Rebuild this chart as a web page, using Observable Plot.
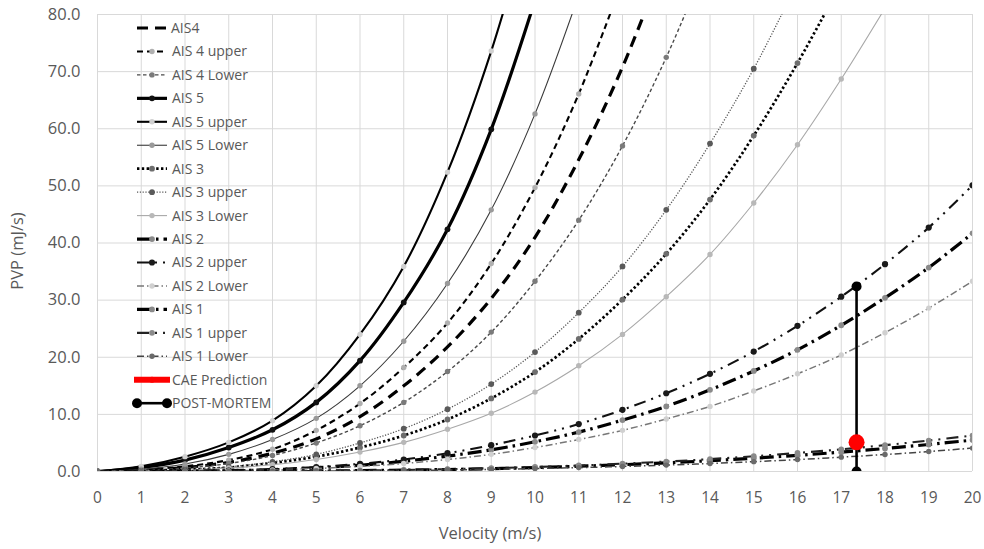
<!DOCTYPE html>
<html>
<head>
<meta charset="utf-8">
<script src="https://cdn.jsdelivr.net/npm/d3@7"></script>
<script src="https://cdn.jsdelivr.net/npm/@observablehq/plot@0.6"></script>
<style>
  html, body { margin: 0; padding: 0; background: #fff; }
  #wrap { position: relative; width: 984px; height: 549px; font-family: "Open Sans", sans-serif; }
  #wrap svg { position: absolute; left: 0; top: 0; }
</style>
</head>
<body>
<div id="wrap"></div>
<script>
// ---------- DATA ----------
const velocity = [0,1,2,3,4,5,6,7,8,9,10,11,12,13,14,15,16,17,18,19,20];
const xTicks = [0,1,2,3,4,5,6,7,8,9,10,11,12,13,14,15,16,17,18,19,20];
const yTicks = [0,10,20,30,40,50,60,70,80];

const seriesNames = ["AIS4","AIS 4 upper","AIS 4 Lower","AIS 5","AIS 5 upper","AIS 5 Lower",
  "AIS 3","AIS 3 upper","AIS 3 Lower","AIS 2","AIS 2 upper","AIS 2 Lower",
  "AIS 1","AIS 1 upper","AIS 1 Lower","CAE Prediction","POST-MORTEM"];

const ais4      = [0,0.2,0.7,1.6,3.2,5.7,9.6,15.0,21.8,30.3,41.0,54.6,70.8,90.1];
const ais4Upper = [0,0.3,0.9,2.0,3.9,7.2,11.9,18.2,26.0,36.4,49.7,66.1,85.9];
const ais4Lower = [0,0.2,0.6,1.4,2.8,5.0,8.0,12.1,17.5,24.4,33.3,44.0,57.0,72.5,90.6];
const ais5      = [0,0.7,2.0,4.2,7.3,12.1,19.4,29.6,42.4,59.9,82.5];
const ais5Upper = [0,0.9,2.6,5.1,8.9,15.0,24.0,35.9,52.4,73.6,100.0];
const ais5Lower = [0,0.4,1.3,3.0,5.6,9.3,15.0,22.8,32.9,45.8,62.6,83.4];
const ais3      = [0,0.1,0.3,0.7,1.5,2.6,4.2,6.3,9.1,12.8,17.4,23.2,30.1,38.1,47.6,58.8,71.5,85.5];
const ais3Upper = [0,0.1,0.3,0.8,1.7,3.0,5.0,7.5,10.9,15.3,20.9,27.8,35.9,45.8,57.4,70.5,85.6];
const ais3Lower = [0,0.1,0.2,0.6,1.2,2.1,3.4,5.1,7.4,10.2,13.9,18.5,24.0,30.6,38.0,47.0,57.2,68.7,81.1];
const ais2      = [0,0.01,0.04,0.14,0.33,0.65,1.1,1.8,2.7,3.8,5.2,6.9,9.0,11.4,14.3,17.6,21.3,25.6,30.4,35.7,41.7];
const ais2Upper = [0,0.01,0.05,0.17,0.4,0.78,1.35,2.1,3.2,4.6,6.3,8.3,10.8,13.7,17.1,21.0,25.5,30.6,36.3,42.7,50.1];
const ais2Lower = [0,0.0,0.03,0.11,0.27,0.52,0.9,1.4,2.1,3.0,4.2,5.6,7.2,9.2,11.4,14.1,17.1,20.4,24.3,28.6,33.3];
const ais1      = [0,0.0,0.01,0.02,0.04,0.09,0.15,0.24,0.35,0.5,0.69,0.92,1.19,1.52,1.89,2.33,2.83,3.39,4.02,4.73,5.5];
const ais1Upper = [0,0.0,0.01,0.02,0.05,0.1,0.17,0.27,0.4,0.58,0.79,1.05,1.37,1.74,2.17,2.67,3.24,3.88,4.61,5.42,6.3];
const ais1Lower = [0,0.0,0.0,0.01,0.03,0.06,0.11,0.17,0.26,0.37,0.51,0.68,0.88,1.12,1.4,1.72,2.09,2.51,2.97,3.5,4.1];

const caeVelocity = [17.35];
const caeValue = [5.1];
const postMortemVelocity = [17.35, 17.35];
const postMortemValue = [0, 32.4];

// ---------- STYLES ----------
const seriesValues = [ais4, ais4Upper, ais4Lower, ais5, ais5Upper, ais5Lower,
  ais3, ais3Upper, ais3Lower, ais2, ais2Upper, ais2Lower, ais1, ais1Upper, ais1Lower];

const styles = [
  {stroke:"#000", w:3.2, dash:"11,7",          marker:null,   r:0},
  {stroke:"#000", w:2.1, dash:"6,4",           marker:"#b0b0b0", r:2.7},
  {stroke:"#4a4a4a", w:1.4, dash:"3.5,2.5",    marker:"#7a7a7a", r:2.7},
  {stroke:"#000", w:3.2, dash:null,            marker:"#111", r:2.9},
  {stroke:"#000", w:2.1, dash:null,            marker:"#d0d0d0", r:2.7},
  {stroke:"#3a3a3a", w:1.1, dash:null,         marker:"#9a9a9a", r:2.7},
  {stroke:"#000", w:2.7, dash:"2.4,2.4",       marker:"#6e6e6e", r:2.9},
  {stroke:"#555", w:1.3, dash:"1.2,1.6",       marker:"#5a5a5a", r:2.9},
  {stroke:"#a8a8a8", w:1.1, dash:null,         marker:"#b8b8b8", r:2.7},
  {stroke:"#000", w:3.2, dash:"14,5,2.5,5",    marker:"#8a8a8a", r:2.9},
  {stroke:"#111", w:2.1, dash:"12,6,2,6,2,6",  marker:"#1a1a1a", r:3.1},
  {stroke:"#777", w:1.5, dash:"7,3,1.5,3",     marker:"#d0d0d0", r:2.7},
  {stroke:"#000", w:3.2, dash:"14,5,2.5,5",    marker:"#8a8a8a", r:2.9},
  {stroke:"#222", w:2.1, dash:"12,6,2,6,2,6",  marker:"#8a8a8a", r:2.9},
  {stroke:"#444", w:1.5, dash:"7,3,1.5,3",     marker:"#6a6a6a", r:2.7}
];

// ---------- CHART ----------
const W = 984, H = 549;
const margin = {left: 97, right: 12, top: 14, bottom: 78};

const marks = [
  Plot.gridX(xTicks, {stroke: "#d9d9d9", strokeOpacity: 1, strokeWidth: 1}),
  Plot.gridY(yTicks, {stroke: "#d9d9d9", strokeOpacity: 1, strokeWidth: 1}),
  Plot.axisX(xTicks, {tickSize: 0, tickPadding: 20, fontSize: 15.5, fill: "#595959", label: null}),
  Plot.axisY(yTicks, {tickSize: 0, tickPadding: 17, fontSize: 16.5, fill: "#595959", label: null, tickFormat: d => d.toFixed(1)})
];

seriesValues.forEach((vals, i) => {
  const st = styles[i];
  const data = vals.map((v, j) => ({x: velocity[j], y: v}));
  marks.push(Plot.line(data, {
    x: "x", y: "y", curve: "catmull-rom", clip: true,
    stroke: st.stroke, strokeWidth: st.w, strokeDasharray: st.dash || undefined,
    strokeLinecap: "butt", strokeLinejoin: "round"
  }));
  if (st.marker) {
    marks.push(Plot.dot(data, {x: "x", y: "y", r: st.r, fill: st.marker, stroke: "none", clip: true}));
  }
});

const pm = postMortemVelocity.map((v, i) => ({x: v, y: postMortemValue[i]}));
marks.push(Plot.line(pm, {x: "x", y: "y", stroke: "#000", strokeWidth: 2.6, clip: true}));
marks.push(Plot.dot(pm, {x: "x", y: "y", r: 5, fill: "#000", stroke: "none", clip: true}));
const cae = caeVelocity.map((v, i) => ({x: v, y: caeValue[i]}));
marks.push(Plot.dot(cae, {x: "x", y: "y", r: 8, fill: "#ff0000", stroke: "none"}));

const chart = Plot.plot({
  width: W, height: H,
  marginLeft: margin.left, marginRight: margin.right, marginTop: margin.top, marginBottom: margin.bottom,
  style: {fontFamily: "Open Sans, sans-serif", background: "transparent", overflow: "visible"},
  x: {domain: [0, 20], label: null},
  y: {domain: [0, 80], label: null},
  marks
});
document.getElementById("wrap").appendChild(chart);

// ---------- OVERLAY: axis titles + legend ----------
const ov = d3.select("#wrap").append("svg")
  .attr("width", W).attr("height", H)
  .style("pointer-events", "none")
  .style("font-family", "Open Sans, sans-serif");

ov.append("text").attr("x", 490).attr("y", 539)
  .attr("text-anchor", "middle").attr("font-size", 16.5).attr("fill", "#595959")
  .text("Velocity (m/s)");
ov.append("text").attr("transform", "translate(23,251) rotate(-90)")
  .attr("text-anchor", "middle").attr("font-size", 16.5).attr("fill", "#595959")
  .text("PVP (mJ/s)");

const legX0 = 137, legX1 = 167, legTextX = 171, legY0 = 28, legStep = 23.45;
const lg = ov.append("g");
seriesNames.forEach((name, i) => {
  const y = legY0 + i * legStep;
  const g = lg.append("g");
  if (i < styles.length) {
    const st = styles[i];
    g.append("line").attr("x1", legX0).attr("x2", legX1).attr("y1", y).attr("y2", y)
      .attr("stroke", st.stroke).attr("stroke-width", st.w)
      .attr("stroke-dasharray", st.dash || null);
    if (st.marker) g.append("circle").attr("cx", (legX0 + legX1) / 2).attr("cy", y).attr("r", st.r).attr("fill", st.marker);
  } else if (name === "CAE Prediction") {
    g.append("line").attr("x1", legX0 - 3).attr("x2", legX1 + 3).attr("y1", y).attr("y2", y)
      .attr("stroke", "#ff0000").attr("stroke-width", 6);
    g.append("circle").attr("cx", (legX0 + legX1) / 2).attr("cy", y).attr("r", 3).attr("fill", "#ff0000");
  } else {
    g.append("line").attr("x1", legX0).attr("x2", legX1).attr("y1", y).attr("y2", y)
      .attr("stroke", "#000").attr("stroke-width", 2.6);
    g.append("circle").attr("cx", legX0).attr("cy", y).attr("r", 5).attr("fill", "#000");
    g.append("circle").attr("cx", legX1).attr("cy", y).attr("r", 5).attr("fill", "#000");
  }
  g.append("text").attr("x", legTextX + (i === 0 ? 0 : 1)).attr("y", y).attr("dy", "0.35em")
    .attr("font-size", 14).attr("fill", "#595959").text(name);
});
</script>
</body>
</html>
